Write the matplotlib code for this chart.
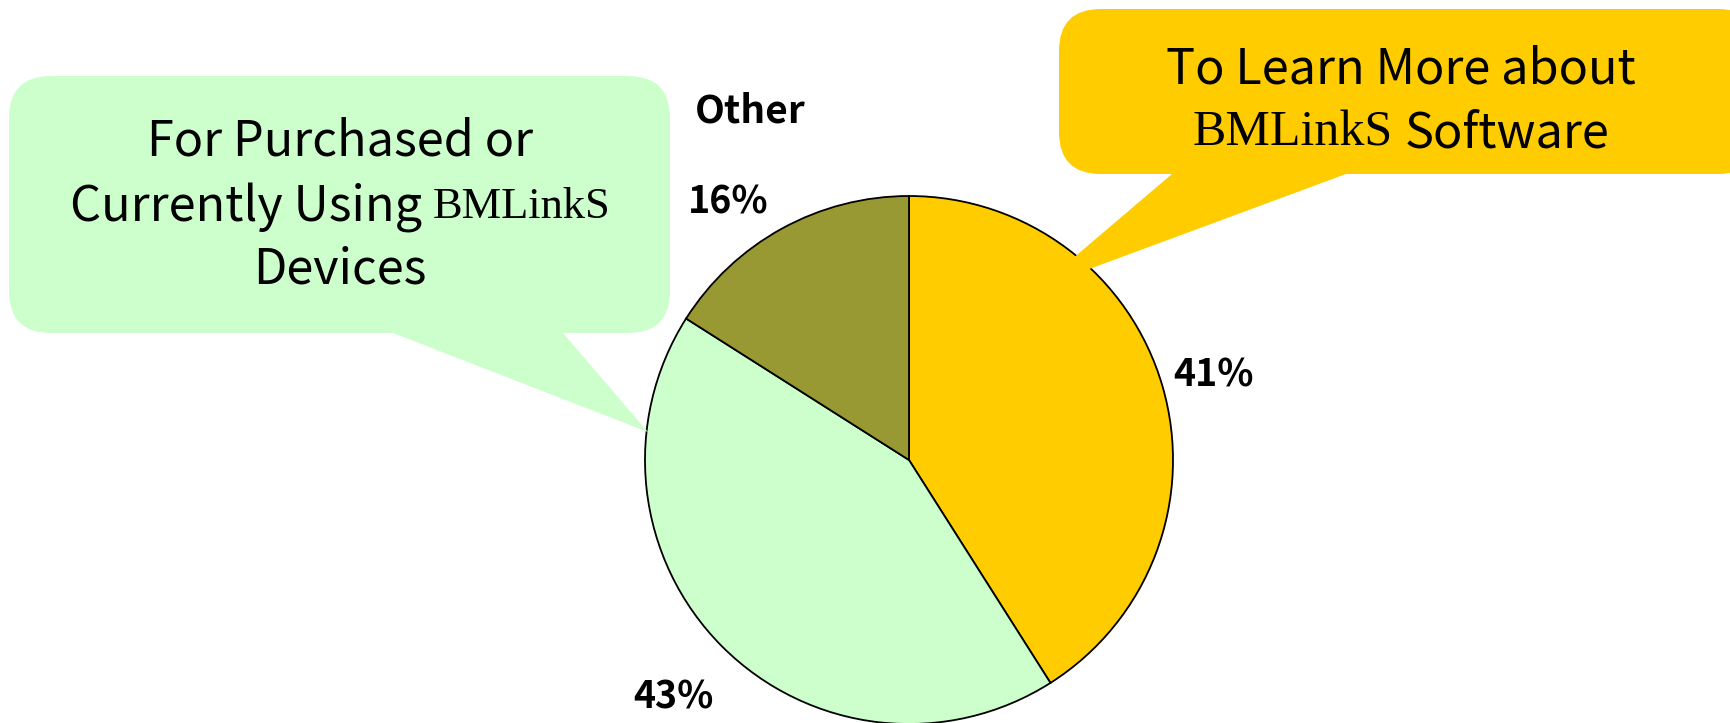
"""Pie chart of why people visit: share of respondents per reason, with callout boxes."""
import matplotlib
matplotlib.use("Agg")
import matplotlib.pyplot as plt
from matplotlib.patches import FancyBboxPatch, Polygon

# -- data --
reasons = ["To Learn More about BMLinkS Software",
           "For Purchased or Currently Using BMLinkS Devices",
           "Other"]
shares = [41, 43, 16]
pct_labels = ["41%", "43%", "16%"]
colors = ["#FFCC00", "#CCFFCC", "#999933"]

# -- layout (pixel units, image y measured from the top) --
W, H = 1730, 723
CX, CY, R = 909, 460, 264
SANS = "Noto Sans CJK JP"
SERIF = "Liberation Serif"


def fy(y):
    return H - y


fig = plt.figure(figsize=(W / 100, H / 100), dpi=100)
ax = fig.add_axes([0, 0, 1, 1])

wedges, _ = ax.pie(shares, colors=colors, startangle=90, counterclock=False,
                   center=(CX, fy(CY)), radius=R, frame=True,
                   wedgeprops=dict(edgecolor="black", linewidth=1.3))
ax.set_xlim(0, W)
ax.set_ylim(0, H)
ax.set_aspect("equal")
ax.axis("off")

# -- percentage labels --
pct_pos = [(1214, 375), (673, 697), (728, 202)]
for txt, (x, y) in zip(pct_labels, pct_pos):
    ax.text(x, fy(y), txt, ha="center", va="center", fontsize=27,
            fontweight="bold", family=SANS)
ax.text(750, fy(111), reasons[2], ha="center", va="center", fontsize=28,
        fontweight="bold", family=SANS)


# -- callouts: rounded box plus a tail pointing at the wedge --
def callout(x0, y0, x1, y1, base, tip, color):
    box = FancyBboxPatch((x0, fy(y1)), x1 - x0, y1 - y0,
                         boxstyle="round,pad=0,rounding_size=42",
                         fc=color, ec="none", zorder=3)
    ax.add_patch(box)
    bl, br = base
    pts = [(bl, y1 - 20), (br, y1 - 20), (br, y1), tip, (bl, y1)]
    ax.add_patch(Polygon([(x, fy(y)) for x, y in pts], closed=True,
                         fc=color, ec="none", zorder=3))


callout(9, 76, 670, 333, (393, 563), (648, 432), colors[1])
callout(1059, 9, 1760, 174, (1172, 1346), (1038, 288), colors[0])

fig.canvas.draw()
renderer = fig.canvas.get_renderer()


def width_of(s, family, size):
    t = ax.text(0, 0, s, fontsize=size, family=family)
    w = t.get_window_extent(renderer).width
    t.remove()
    return w


def mixed_line(xc, y, parts):
    """parts: list of (string, family, size) drawn side by side, centred on xc."""
    size0 = parts[0][2]
    gap = width_of("x x", SANS, size0) - width_of("xx", SANS, size0)
    widths = [width_of(s, f, z) for s, f, z in parts]
    total = sum(widths) + gap * (len(parts) - 1)
    x = xc - total / 2
    for (s, f, z), w in zip(parts, widths):
        ax.text(x, fy(y), s, ha="left", va="center_baseline", fontsize=z,
                family=f, zorder=4)
        x += w + gap


mixed_line(340, 136, [("For Purchased or", SANS, 35)])
mixed_line(340, 202, [("Currently Using", SANS, 35), ("BMLinkS", SERIF, 32)])
mixed_line(340, 264, [("Devices", SANS, 35)])
mixed_line(1401, 64, [("To Learn More about", SANS, 35)])
mixed_line(1401, 128, [("BMLinkS", SERIF, 36), ("Software", SANS, 35)])

fig.savefig("out.png", dpi=100)
plt.close(fig)
